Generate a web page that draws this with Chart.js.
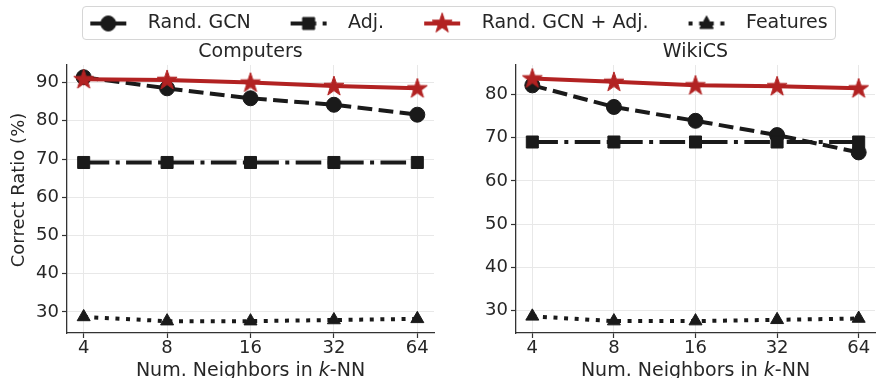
<!DOCTYPE html>
<html>
<head>
<meta charset="utf-8">
<script src="https://cdn.jsdelivr.net/npm/chart.js@4.4.1/dist/chart.umd.min.js"></script>
<style>
html, body { margin: 0; padding: 0; background: #fff; overflow: hidden; width: 886px; height: 378px; }
#box { position: absolute; left: 82px; top: 6px; width: 754px; height: 34px; box-sizing: border-box; border: 1px solid #d6d6d6; border-radius: 4px; }
#legend { position: absolute; left: 0; top: 6px; }
#left { position: absolute; left: 0; top: 40px; }
#right { position: absolute; left: 445px; top: 40px; }
</style>
</head>
<body>
<div id="box"></div>
<canvas id="legend" width="886" height="120"></canvas>
<canvas id="left" width="445" height="338"></canvas>
<canvas id="right" width="441" height="338"></canvas>
<script>
// data
const neighbors = [4, 8, 16, 32, 64];
const seriesNames = ['Rand. GCN', 'Adj.', 'Rand. GCN + Adj.', 'Features'];

const computersRandGcn = [91.4, 88.5, 85.9, 84.2, 81.6];
const computersAdj = [69.1, 69.1, 69.1, 69.1, 69.1];
const computersRandGcnAdj = [90.9, 90.7, 90.0, 89.1, 88.5];
const computersFeatures = [28.7, 27.6, 27.6, 27.9, 28.2];

const wikicsRandGcn = [82.1, 77.1, 73.9, 70.6, 66.6];
const wikicsAdj = [69.0, 69.0, 69.0, 69.0, 69.0];
const wikicsRandGcnAdj = [83.7, 82.9, 82.1, 81.9, 81.4];
const wikicsFeatures = [28.7, 27.6, 27.6, 27.9, 28.2];

const computersTicks = [30, 40, 50, 60, 70, 80, 90];
const wikicsTicks = [30, 40, 50, 60, 70, 80];

const fontFamily = '"DejaVu Sans", sans-serif';
const textColor = '#262626';
const axisColor = '#333333';
const gridColor = '#e8e8e8';

const styles = [
	{ color: '#1a1a1a', dash: [14.8, 6.4], marker: 'circle', radius: 7.5 },
	{ color: '#1a1a1a', dash: [25.6, 6.4, 4, 6.4], marker: 'rect', radius: 8.5 },
	{ color: '#b22222', dash: [], marker: 'star', radius: 10 },
	{ color: '#1a1a1a', dash: [4, 6.6], marker: 'triangle', radius: 7.5 }
];

function drawMarker(ctx, shape, x, y, color) {
	ctx.save();
	ctx.setLineDash([]);
	ctx.fillStyle = color;
	ctx.strokeStyle = color;
	ctx.lineWidth = 1;
	ctx.beginPath();
	if (shape === 'circle') {
		ctx.arc(x, y, 7.5, 0, Math.PI * 2);
	} else if (shape === 'rect') {
		ctx.rect(x - 6, y - 6, 12, 12);
	} else if (shape === 'triangle') {
		ctx.moveTo(x, y - 7.5);
		ctx.lineTo(x + 6.8, y + 5);
		ctx.lineTo(x - 6.8, y + 5);
		ctx.closePath();
	} else {
		for (let k = 0; k < 10; k++) {
			const r = k % 2 ? 4.1 : 10.5;
			const a = -Math.PI / 2 + k * Math.PI / 5;
			const px = x + r * Math.cos(a), py = y + r * Math.sin(a);
			if (k === 0) ctx.moveTo(px, py); else ctx.lineTo(px, py);
		}
		ctx.closePath();
	}
	ctx.fill();
	ctx.stroke();
	ctx.restore();
}

// star marker image for the chart points
const starImg = document.createElement('canvas');
starImg.width = 24; starImg.height = 24;
drawMarker(starImg.getContext('2d'), 'star', 12, 12.5, styles[2].color);

// legend icons: line sample with marker
const legendIcons = styles.map(s => {
	const c = document.createElement('canvas');
	c.width = 80; c.height = 24;
	const g = c.getContext('2d');
	g.strokeStyle = s.color;
	g.lineWidth = 4;
	g.lineCap = 'butt';
	g.setLineDash(s.dash);
	g.beginPath();
	g.moveTo(32, 12);
	g.lineTo(68, 12);
	g.stroke();
	drawMarker(g, s.marker, 50, 12, s.color);
	return c;
});

new Chart(document.getElementById('legend'), {
	type: 'line',
	data: { datasets: seriesNames.map(n => ({ label: n, data: [] })) },
	options: {
		responsive: false,
		animation: false,
		layout: { padding: 0 },
		scales: { x: { display: false }, y: { display: false } },
		plugins: {
			tooltip: { enabled: false },
			legend: {
				position: 'top',
				labels: {
					usePointStyle: true,
					pointStyleWidth: 80,
					boxHeight: 19,
					padding: 8,
					color: textColor,
					font: { family: fontFamily, size: 19 },
					generateLabels: () => seriesNames.map((n, i) => ({
						text: n,
						pointStyle: legendIcons[i],
						fillStyle: styles[i].color,
						strokeStyle: styles[i].color,
						lineWidth: 0,
						hidden: false,
						datasetIndex: i,
						fontColor: textColor
					}))
				}
			}
		}
	}
});

const panelText = {
	id: 'panelText',
	afterDraw(chart, args, opts) {
		const { ctx, chartArea } = chart;
		const cx = (chartArea.left + chartArea.right) / 2;
		ctx.save();
		ctx.fillStyle = textColor;
		ctx.textAlign = 'center';
		ctx.textBaseline = 'middle';
		ctx.font = '19px ' + fontFamily;
		ctx.fillText(opts.title, cx, chartArea.top - 13);

		// x label with italic k
		const parts = [['Num. Neighbors in ', ''], ['k', 'italic '], ['-NN', '']];
		let total = 0;
		parts.forEach(p => { ctx.font = p[1] + '19px ' + fontFamily; total += ctx.measureText(p[0]).width; });
		let x = cx - total / 2;
		ctx.textAlign = 'left';
		ctx.textBaseline = 'alphabetic';
		parts.forEach(p => {
			ctx.font = p[1] + '19px ' + fontFamily;
			ctx.fillText(p[0], x, chartArea.bottom + 43);
			x += ctx.measureText(p[0]).width;
		});

		if (opts.yLabel) {
			ctx.translate(19.5, 150);
			ctx.rotate(-Math.PI / 2);
			ctx.textAlign = 'center';
			ctx.textBaseline = 'middle';
			ctx.font = '18px ' + fontFamily;
			ctx.fillText(opts.yLabel, 0, 0);
		}
		ctx.restore();
	}
};

function makePanel(id, series, yMin, yMax, yTicks, title, yLabel, yWidth, padRight) {
	return new Chart(document.getElementById(id), {
		type: 'line',
		data: {
			datasets: series.map((vals, i) => ({
				label: seriesNames[i],
				data: vals.map((v, j) => ({ x: Math.log2(neighbors[j]), y: v })),
				borderColor: styles[i].color,
				backgroundColor: styles[i].color,
				borderWidth: 4,
				borderDash: styles[i].dash,
				borderCapStyle: 'butt',
				pointStyle: styles[i].marker === 'star' ? starImg : styles[i].marker,
				pointRadius: styles[i].radius,
				pointBackgroundColor: styles[i].color,
				pointBorderColor: styles[i].color,
				pointBorderWidth: 1,
				order: 3 - i,
				clip: false,
				tension: 0
			}))
		},
		options: {
			responsive: false,
			animation: false,
			layout: { padding: { top: 25, right: padRight, bottom: 0, left: 0 } },
			plugins: {
				legend: { display: false },
				tooltip: { enabled: false },
				panelText: { title: title, yLabel: yLabel }
			},
			scales: {
				x: {
					type: 'linear',
					min: 1.8,
					max: 6.2,
					afterBuildTicks: s => { s.ticks = neighbors.map(k => ({ value: Math.log2(k) })); },
					afterFit: s => { s.height = 45; },
					ticks: { callback: v => String(2 ** v), color: textColor, font: { family: fontFamily, size: 18 }, padding: 0, maxRotation: 0 },
					grid: { color: gridColor, lineWidth: 1, tickLength: 5, tickColor: axisColor, tickWidth: 1.2 },
					border: { color: axisColor, width: 1.3 }
				},
				y: {
					min: yMin,
					max: yMax,
					afterBuildTicks: s => { s.ticks = yTicks.map(v => ({ value: v })); },
					afterFit: s => { s.width = yWidth; },
					ticks: { color: textColor, font: { family: fontFamily, size: 18 }, padding: 3 },
					grid: { color: gridColor, lineWidth: 1, tickLength: 5, tickColor: axisColor, tickWidth: 1.2 },
					border: { color: axisColor, width: 1.3 }
				}
			}
		},
		plugins: [panelText]
	});
}

makePanel('left', [computersRandGcn, computersAdj, computersRandGcnAdj, computersFeatures],
	24.5, 94.6, computersTicks, 'Computers', 'Correct Ratio (%)', 67, 5);
makePanel('right', [wikicsRandGcn, wikicsAdj, wikicsRandGcnAdj, wikicsFeatures],
	24.85, 86.8, wikicsTicks, 'WikiCS', '', 71, 1);
</script>
</body>
</html>
